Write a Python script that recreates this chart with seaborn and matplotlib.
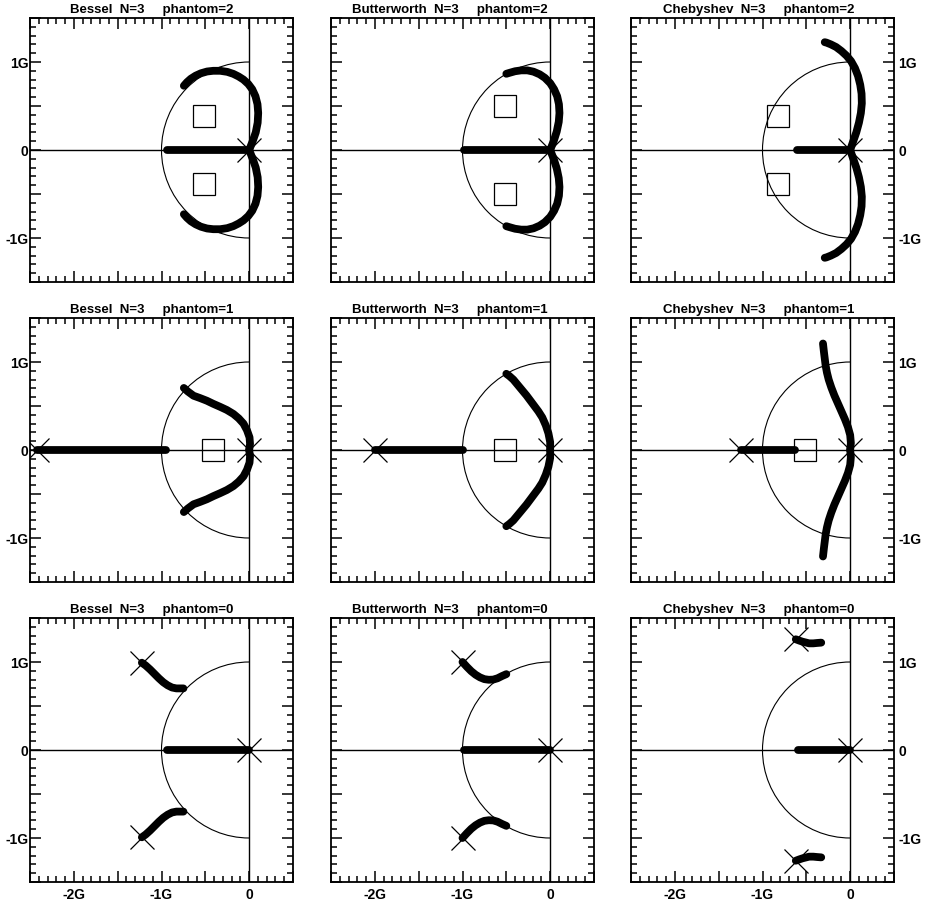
import matplotlib
matplotlib.use("Agg")
import matplotlib.pyplot as plt
from matplotlib.patches import Arc
from matplotlib.ticker import FixedLocator, FixedFormatter, MultipleLocator
import seaborn as sns

sns.set_style("white")
plt.rcParams["font.family"] = ["Liberation Sans", "DejaVu Sans"]

# ---------------------------------------------------------------- data ----
FILTERS = ["Bessel", "Butterworth", "Chebyshev"]
ORDER = 3
PHANTOMS = [2, 1, 0]

X_TICKS = [-2.5, -2.0, -1.5, -1.0, -0.5, 0.0, 0.5]
X_TICK_LABELS = ["", "-2G", "", "-1G", "", "0", ""]
Y_TICKS = [-1.5, -1.0, -0.5, 0.0, 0.5, 1.0, 1.5]
Y_TICK_LABELS = ["", "-1G", "", "0", "", "1G", ""]

# upper branches of the complex loci (lower branch is the conjugate)
bessel_ph2_x = [0.0, 0.04, 0.075, 0.097, 0.103, 0.095, 0.072, 0.035, -0.01, -0.065, -0.12,
                -0.18, -0.25, -0.33, -0.41, -0.48, -0.55, -0.61, -0.665, -0.71, -0.745]
bessel_ph2_y = [0.0, 0.10, 0.20, 0.31, 0.42, 0.52, 0.61, 0.69, 0.75, 0.80, 0.835,
                0.865, 0.888, 0.90, 0.90, 0.892, 0.872, 0.845, 0.81, 0.77, 0.73]
bessel_ph1_x = [0.0, 0.01, 0.004, -0.025, -0.065, -0.12, -0.18, -0.255, -0.33, -0.41,
                -0.483, -0.56, -0.635, -0.70, -0.745]
bessel_ph1_y = [0.0, 0.07, 0.144, 0.225, 0.30, 0.36, 0.41, 0.455, 0.49, 0.525,
                0.56, 0.59, 0.617, 0.665, 0.705]
bessel_ph0_x = [-1.224, -1.18, -1.13, -1.08, -1.03, -0.98, -0.93, -0.88, -0.83, -0.78, -0.75]
bessel_ph0_y = [0.992, 0.96, 0.915, 0.865, 0.815, 0.77, 0.735, 0.71, 0.70, 0.70, 0.70]

butter_ph2_x = [0.0, 0.04, 0.075, 0.098, 0.106, 0.10, 0.08, 0.045, 0.0, -0.06, -0.12,
                -0.19, -0.26, -0.33, -0.40, -0.46, -0.5]
butter_ph2_y = [0.0, 0.10, 0.21, 0.32, 0.42, 0.52, 0.61, 0.69, 0.76, 0.82, 0.86,
                0.89, 0.905, 0.905, 0.895, 0.878, 0.866]
butter_ph1_x = [0.0, 0.0, -0.02, -0.05, -0.09, -0.135, -0.18, -0.225, -0.27, -0.32,
                -0.37, -0.42, -0.465, -0.5]
butter_ph1_y = [0.0, 0.09, 0.19, 0.28, 0.37, 0.44, 0.50, 0.56, 0.62, 0.68,
                0.74, 0.80, 0.84, 0.866]
butter_ph0_x = [-1.0, -0.95, -0.9, -0.85, -0.80, -0.75, -0.70, -0.65, -0.60, -0.55, -0.5]
butter_ph0_y = [1.0, 0.945, 0.895, 0.855, 0.825, 0.805, 0.798, 0.80, 0.815, 0.84, 0.862]

cheby_ph2_x = [0.0, 0.035, 0.07, 0.10, 0.122, 0.133, 0.13, 0.115, 0.09, 0.055, 0.01,
               -0.04, -0.10, -0.16, -0.22, -0.27, -0.29]
cheby_ph2_y = [0.0, 0.10, 0.20, 0.31, 0.42, 0.53, 0.64, 0.74, 0.84, 0.93, 1.01,
               1.07, 1.125, 1.17, 1.20, 1.22, 1.225]
cheby_ph1_x = [0.0, 0.008, 0.0, -0.025, -0.06, -0.10, -0.14, -0.18, -0.215, -0.245,
               -0.265, -0.28, -0.29, -0.30, -0.31]
cheby_ph1_y = [0.0, 0.08, 0.17, 0.26, 0.35, 0.44, 0.53, 0.62, 0.71, 0.80,
               0.88, 0.96, 1.04, 1.12, 1.21]
cheby_ph0_x = [-0.62, -0.58, -0.544, -0.50, -0.468, -0.42, -0.38, -0.33]
cheby_ph0_y = [1.258, 1.243, 1.231, 1.22, 1.212, 1.212, 1.216, 1.22]

# real-axis locus segments (start, end)
bessel_real = {2: (0.0, -0.94), 1: (-2.42, -0.95), 0: (0.0, -0.94)}
butter_real = {2: (0.0, -0.985), 1: (-2.0, -1.0), 0: (0.0, -0.985)}
cheby_real = {2: (0.0, -0.61), 1: (-1.247, -0.63), 0: (0.0, -0.60)}

# open-loop poles (x) and zeros (squares)
bessel_poles = {2: [(0, 0)], 1: [(0, 0), (-2.42, 0)], 0: [(0, 0), (-1.224, 0.992), (-1.224, -0.992)]}
butter_poles = {2: [(0, 0)], 1: [(0, 0), (-2.0, 0)], 0: [(0, 0), (-1.0, 1.0), (-1.0, -1.0)]}
cheby_poles = {2: [(0, 0)], 1: [(0, 0), (-1.247, 0)], 0: [(0, 0), (-0.62, 1.258), (-0.62, -1.258)]}

bessel_zeros = {2: [(-0.52, 0.39), (-0.52, -0.39)], 1: [(-0.41, 0.0)], 0: []}
butter_zeros = {2: [(-0.51, 0.50), (-0.51, -0.50)], 1: [(-0.51, 0.0)], 0: []}
cheby_zeros = {2: [(-0.82, 0.39), (-0.82, -0.39)], 1: [(-0.51, 0.0)], 0: []}

branches = {
    "Bessel": {2: (bessel_ph2_x, bessel_ph2_y), 1: (bessel_ph1_x, bessel_ph1_y), 0: (bessel_ph0_x, bessel_ph0_y)},
    "Butterworth": {2: (butter_ph2_x, butter_ph2_y), 1: (butter_ph1_x, butter_ph1_y), 0: (butter_ph0_x, butter_ph0_y)},
    "Chebyshev": {2: (cheby_ph2_x, cheby_ph2_y), 1: (cheby_ph1_x, cheby_ph1_y), 0: (cheby_ph0_x, cheby_ph0_y)},
}
real_segments = {"Bessel": bessel_real, "Butterworth": butter_real, "Chebyshev": cheby_real}
poles = {"Bessel": bessel_poles, "Butterworth": butter_poles, "Chebyshev": cheby_poles}
zeros = {"Bessel": bessel_zeros, "Butterworth": butter_zeros, "Chebyshev": cheby_zeros}

# -------------------------------------------------------------- layout ----
W, H = 926, 901
COL_LEFT = [30, 331, 631]
ROW_TOP = [18, 318, 618]
PW, PH = 263, 264
TITLE_X = [0.464, 0.452, 0.487]
LOCUS_LW = 5.6

fig = plt.figure(figsize=(W / 100, H / 100), dpi=100)
fig.patch.set_facecolor("white")

for r, ph in enumerate(PHANTOMS):
    for c, name in enumerate(FILTERS):
        ax = fig.add_axes([COL_LEFT[c] / W, (H - ROW_TOP[r] - PH) / H, PW / W, PH / H])
        ax.set_facecolor("white")

        # reference axes through the origin and the unit half circle
        ax.axhline(0, color="black", lw=1.0, zorder=1)
        ax.axvline(0, color="black", lw=1.0, zorder=1)
        ax.add_patch(Arc((0, 0), 2, 2, theta1=90, theta2=270, color="black", lw=0.8, zorder=1))

        line_kw = dict(sort=False, estimator=None, color="black", linewidth=LOCUS_LW,
                       solid_capstyle="round", solid_joinstyle="round", ax=ax, zorder=3)

        # real-axis branch
        x0, x1 = real_segments[name][ph]
        sns.lineplot(x=[x0, x1], y=[0.0, 0.0], **line_kw)

        # complex-conjugate branches
        bx, by = branches[name][ph]
        sns.lineplot(x=bx, y=by, **line_kw)
        sns.lineplot(x=bx, y=[-v for v in by], **line_kw)

        # poles and zeros
        for px, py in poles[name][ph]:
            ax.plot(px, py, marker="x", ms=17.5, mew=0.9, color="black", ls="none", zorder=5)
        for zx, zy in zeros[name][ph]:
            ax.plot(zx, zy, marker="s", ms=15.5, mew=0.9, mfc="none", mec="black", ls="none", zorder=5)

        ax.set_xlim(-2.5, 0.5)
        ax.set_ylim(-1.5, 1.5)
        ax.set_xlabel("")
        ax.set_ylabel("")

        ax.xaxis.set_major_locator(FixedLocator(X_TICKS))
        ax.xaxis.set_major_formatter(FixedFormatter(X_TICK_LABELS))
        ax.yaxis.set_major_locator(FixedLocator(Y_TICKS))
        ax.yaxis.set_major_formatter(FixedFormatter(Y_TICK_LABELS))
        ax.xaxis.set_minor_locator(MultipleLocator(0.1))
        ax.yaxis.set_minor_locator(MultipleLocator(0.1))

        ax.tick_params(which="both", direction="in", top=True, bottom=True,
                       left=True, right=True, color="black", width=1.1,
                       labelsize=10, labelcolor="black")
        ax.tick_params(which="major", length=8)
        ax.tick_params(which="minor", length=4)
        ax.tick_params(axis="x", labelbottom=(r == 2), labeltop=False, pad=4.5)
        ax.tick_params(axis="y", labelleft=(c == 0), labelright=(c == 2))
        if c == 0:
            ax.tick_params(axis="y", pad=1)
        if c == 2:
            ax.tick_params(axis="y", pad=3)
        for lab in ax.get_xticklabels() + ax.get_yticklabels():
            lab.set_fontweight("bold")

        for sp in ax.spines.values():
            sp.set_visible(True)
            sp.set_color("black")
            sp.set_linewidth(1.3)

        ax.text(TITLE_X[c], 1.0 + 2 / PH, f"{name}  N={ORDER}     phantom={ph}",
                transform=ax.transAxes, ha="center", va="bottom",
                fontsize=9.5, fontweight="bold", color="black")

fig.savefig("out.png", dpi=100, facecolor="white")
